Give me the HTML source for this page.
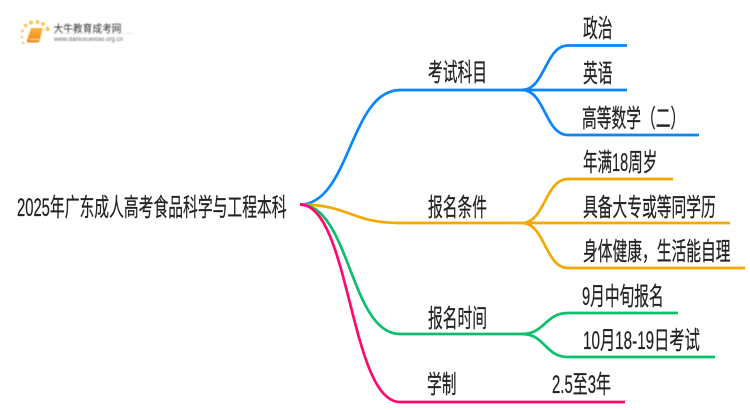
<!DOCTYPE html>
<html><head><meta charset="utf-8"><style>
html,body{margin:0;padding:0;background:#fff;width:750px;height:410px;overflow:hidden}
svg{display:block}
text{font-family:"Liberation Sans","Noto Sans CJK SC",sans-serif;fill:#222;font-size:25px}
.t text{stroke:#222;stroke-width:.25px}
.l{fill:none;stroke-width:2.700}
</style></head><body>
<svg width="750" height="410" viewBox="0 0 750 410" xmlns="http://www.w3.org/2000/svg">
<defs><filter id="b"><feGaussianBlur stdDeviation="0.5"/></filter><filter id="c"><feGaussianBlur stdDeviation="0.3"/></filter>
<linearGradient id="g" x1="0" y1="0" x2="0" y2="1"><stop offset="0" stop-color="#fbb040"/><stop offset="1" stop-color="#ef8a12"/></linearGradient></defs>
<rect width="750" height="410" fill="#fff"/>
<g filter="url(#b)">
<g fill="#f9c65a">
<circle cx="23" cy="43" r="1.200"/><circle cx="22" cy="37" r="1.200"/><circle cx="22.500" cy="31" r="1.500"/><circle cx="25.500" cy="25.500" r="1.800"/><circle cx="31" cy="22.500" r="2"/><circle cx="37.500" cy="22" r="2"/><circle cx="43" cy="24" r="2"/><circle cx="47.500" cy="29" r="2.200"/>
</g>
<path d="M31 28H43Q42 30 41.500 33L39.500 41Q39 42.500 37 42.500H28Q26.500 42.500 27 40.500Z" fill="url(#g)"/>
<path d="M30 39.500H39" stroke="#fde0a8" stroke-width="1"/>
<path d="M54 33.500H133" stroke="#e8e8e8" stroke-width="1"/>
<text x="53.500" y="32" textLength="68" lengthAdjust="spacingAndGlyphs" style="font-size:10.500px;fill:#333">大牛教育成考网</text>
<text x="54" y="41" textLength="69" lengthAdjust="spacingAndGlyphs" style="font-size:6px;fill:#666">www.daniuxuexiao.org.cn</text>
</g>
<path class="l" stroke="#0a84ff" d="M300 204.500C350 204.500 350 90 400 90H522C545 90 545 45.500 568 45.500H627"/>
<path class="l" stroke="#0a84ff" d="M522 90H627"/>
<path class="l" stroke="#0a84ff" d="M522 90C545 90 545 135 568 135H699"/>
<path class="l" stroke="#f5a800" d="M300 204.500C350 204.500 350 223 400 223H522C545 223 545 179 568 179H673"/>
<path class="l" stroke="#f5a800" d="M522 223H730"/>
<path class="l" stroke="#f5a800" d="M522 223C545 223 545 268 568 268H745"/>
<path class="l" stroke="#0dbf6b" d="M300 204.500C350 204.500 350 334 400 334H522C545 334 545 313 568 313H678"/>
<path class="l" stroke="#0dbf6b" d="M522 334C545 334 545 357 568 357H715"/>
<path class="l" stroke="#ff0a6c" d="M300 204.500C350 204.500 350 402 400 402H625"/>
<g class="t" filter="url(#c)">
<text transform="translate(17 216) scale(.592 1)">2025年广东成人高考食品科学与工程本科</text>
<text transform="translate(428 81) scale(.59 1)">考试科目</text>
<text transform="translate(428 216) scale(.59 1)">报名条件</text>
<text transform="translate(428 327) scale(.59 1)">报名时间</text>
<text transform="translate(427 393) scale(.59 1)">学制</text>
<text transform="translate(583 37) scale(.59 1)">政治</text>
<text transform="translate(583 82) scale(.59 1)">英语</text>
<text transform="translate(582 127) scale(.59 1)">高等数学（二）</text>
<text transform="translate(583 171) scale(.581 1)">年满18周岁</text>
<text transform="translate(583 216) scale(.59 1)">具备大专或等同学历</text>
<text transform="translate(583 260) scale(.59 1)">身体健康，生活能自理</text>
<text transform="translate(582 305) scale(.588 1)">9月中旬报名</text>
<text transform="translate(583 349) scale(.61 1)">10月18-19日考试</text>
<text transform="translate(552 393) scale(.598 1)">2.5至3年</text>
</g>
</svg>
</body></html>
